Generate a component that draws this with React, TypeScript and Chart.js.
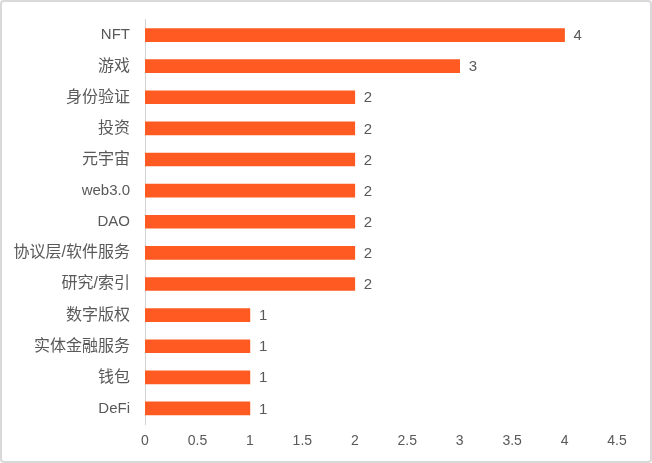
import React, { useEffect, useRef } from "react";
import { Chart, registerables } from "chart.js";

Chart.register(...registerables);

const categories = ["NFT", "游戏", "身份验证", "投资", "元宇宙", "web3.0", "DAO", "协议层/软件服务", "研究/索引", "数字版权", "实体金融服务", "钱包", "DeFi"];
const values = [4, 3, 2, 2, 2, 2, 2, 2, 2, 1, 1, 1, 1];
const xMin = 0;
const xMax = 4.5;
const xStep = 0.5;

const FONT = '"Liberation Sans", "Noto Sans CJK SC", sans-serif';
const TEXT = "#595959";
const BAR = "#FF5A22";

const hasCJK = (s: string) => /[\u3400-\u9fff]/.test(s);

const labelPlugin = {
  id: "barLabels",
  afterDatasetsDraw(chart: any) {
    const ctx = chart.ctx;
    const meta = chart.getDatasetMeta(0);
    ctx.save();
    ctx.font = `15px ${FONT}`;
    ctx.fillStyle = TEXT;
    ctx.textAlign = "left";
    ctx.textBaseline = "middle";
    meta.data.forEach((el: any, i: number) => {
      ctx.fillText(String(values[i]), el.x + 9, el.y + 1);
    });
    ctx.restore();
  },
};

export default function App() {
  const ref = useRef<HTMLCanvasElement | null>(null);
  useEffect(() => {
    if (!ref.current) return;
    const chart = new Chart(ref.current, {
      type: "bar",
      data: {
        labels: categories,
        datasets: [
          {
            data: values,
            backgroundColor: BAR,
            borderWidth: 0,
            barThickness: 13,
          },
        ],
      },
      options: {
        indexAxis: "y",
        responsive: false,
        animation: false,
        layout: { padding: { left: 0, right: 35, top: 19.5, bottom: 10 } },
        plugins: { legend: { display: false }, tooltip: { enabled: false } },
        scales: {
          x: {
            min: xMin,
            max: xMax,
            grid: { display: false, drawTicks: false },
            border: { display: false },
            ticks: {
              stepSize: xStep,
              padding: 9,
              color: TEXT,
              font: { size: 14, family: FONT },
              maxRotation: 0,
              callback: (v: any) => String(Math.round(Number(v) * 10) / 10),
            },
            afterFit(scale: any) {
              scale.height = 29;
            },
          },
          y: {
            grid: {
              display: true,
              color: "rgba(0,0,0,0)",
              drawTicks: true,
              tickLength: 10,
              tickColor: "rgba(0,0,0,0)",
            },
            border: { display: true, color: "#d3d3d3", width: 1 },
            ticks: {
              padding: 5,
              color: TEXT,
              font: (c: any) => ({
                size: hasCJK(categories[c.index] || "") ? 16 : 15,
                family: FONT,
              }),
            },
            afterFit(scale: any) {
              scale.width = 145;
            },
          },
        },
      },
      plugins: [labelPlugin],
    });
    return () => chart.destroy();
  }, []);
  return (
    <div style={{ position: "fixed", left: 0, top: 0, width: 652, height: 463, background: "#fff" }}>
      <canvas ref={ref} width={652} height={463} style={{ position: "absolute", left: 0, top: 0, width: 652, height: 463 }} />
      <div
        style={{
          position: "absolute",
          left: 0,
          top: 0,
          width: 652,
          height: 463,
          boxSizing: "border-box",
          border: "2px solid #d9d9d9",
          borderRadius: 4,
          pointerEvents: "none",
        }}
      />
    </div>
  );
}
